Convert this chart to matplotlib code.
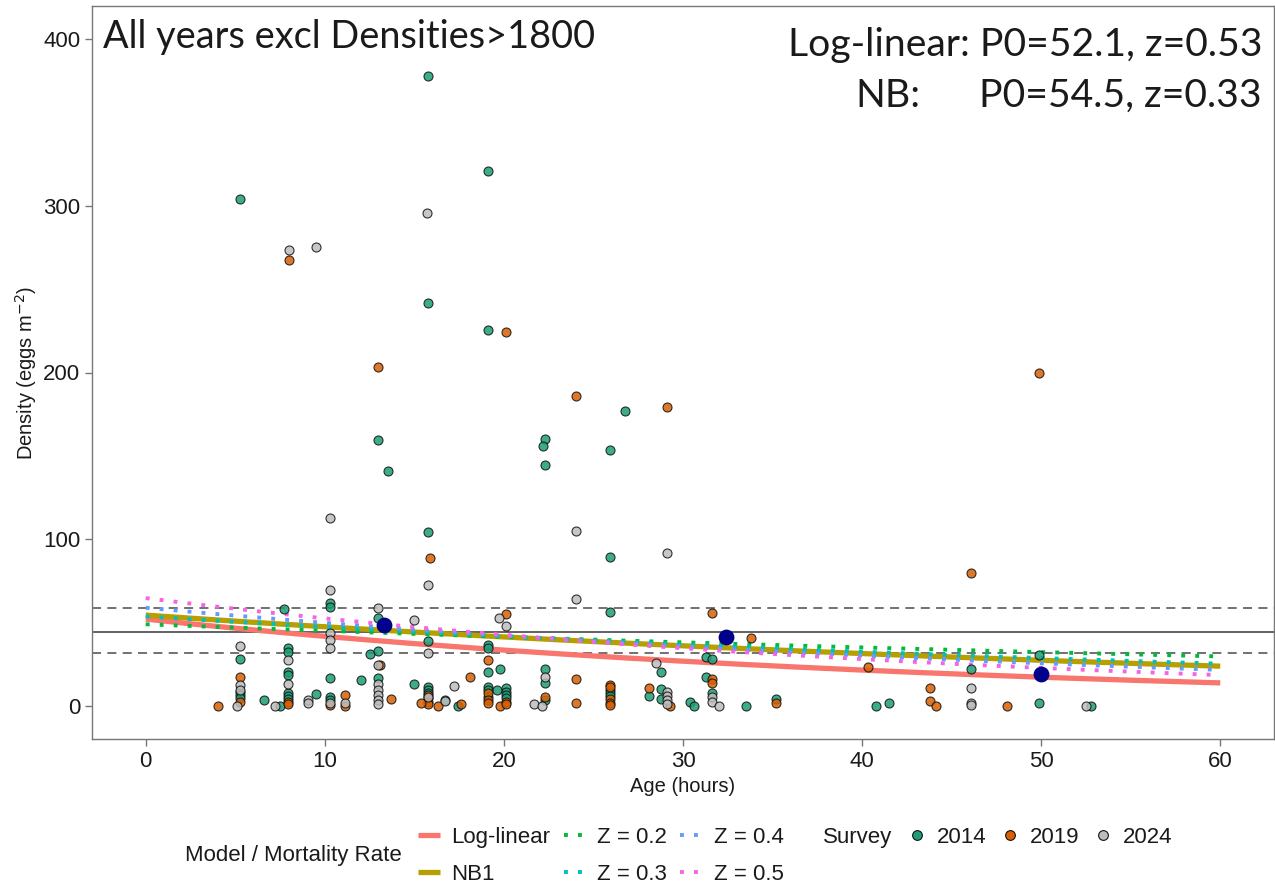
import numpy as np
import matplotlib.pyplot as plt
from matplotlib.lines import Line2D

# Survey observations (age in hours, density in eggs m^-2)
age_2014 = [5.24, 15.77, 19.1, 15.77, 19.1, 12.95, 22.3, 22.2, 25.95, 13.5, 22.3, 26.75,
            15.77, 25.95, 25.95, 10.3, 10.3, 7.7, 5.25, 5.25, 5.25, 5.25, 7.95, 7.95,
            7.95, 7.95, 7.95, 7.95, 7.95, 7.5, 6.6, 9.5, 10.3, 10.3, 10.3, 12.0, 12.5,
            12.95, 12.95, 12.95, 15.0, 15.75, 15.75, 15.75, 15.75, 16.7, 17.45, 19.1,
            19.1, 19.1, 19.1, 19.1, 19.1, 19.8, 19.6, 20.1, 20.1, 20.1, 20.1, 22.3,
            22.3, 22.3, 25.95, 25.95, 25.95, 28.75, 28.1, 28.75, 28.75, 30.4, 30.6,
            31.3, 31.6, 31.3, 31.6, 33.5, 35.2, 40.8, 41.5, 46.1, 49.9, 49.9, 52.8]
dens_2014 = [304, 377.7, 321, 241.5, 225.5, 159.3, 160, 156, 153.8, 141, 144.5, 177,
             104.3, 89.3, 56.3, 61.7, 59.5, 58, 28.2, 8.6, 6.6, 4.5, 34.6, 32.6,
             20.6, 18.6, 7.6, 5.8, 4, 0, 3.6, 7.4, 16.6, 5.2, 3.6, 15.6, 31,
             52.6, 33, 16.6, 13.2, 39, 11.6, 9.6, 8, 3.6, 0, 36.6,
             35, 20.6, 11.6, 9.6, 5.6, 22, 9.6, 10.6, 8.6, 6.6, 4.6, 22,
             14, 3.6, 9.6, 7.6, 6, 20.6, 6.2, 10, 4, 2.6, 0,
             29.6, 28.2, 17.2, 8, 0, 4, 0, 2, 22, 30.6, 1.6, 0]

age_2019 = [8.0, 20.1, 12.95, 49.9, 24.05, 29.1, 15.9, 46.1, 20.1, 31.6, 33.8, 40.35,
            4.05, 5.25, 5.25, 7.95, 7.95, 10.3, 11.1, 11.1, 13.1, 13.7, 15.75, 15.75,
            15.75, 15.75, 15.35, 16.3, 17.6, 18.1, 19.1, 19.1, 19.1, 19.1, 19.8, 20.1,
            20.1, 22.3, 24.05, 24.05, 25.95, 25.95, 25.95, 25.95, 25.95, 28.1, 29.3,
            31.6, 31.6, 35.2, 43.8, 43.8, 44.1, 48.1]
dens_2019 = [267.6, 224.3, 203.4, 199.6, 186, 179.5, 88.5, 80, 55.2, 55.6, 41, 23.2,
             0, 17.2, 2.2, 2.6, 1, 0.4, 6.6, 0, 24.6, 4, 6.6, 4.6,
             2.6, 1.2, 2, 0, 1.2, 17.6, 27.6, 7.6, 3.6, 1.6, 0, 2.6,
             1.2, 5.6, 16.2, 1.6, 12.6, 11.2, 4, 2, 0.4, 11, 0,
             16, 14, 1.6, 10.6, 3, 0, 0]

age_2024 = [15.7, 8.0, 9.5, 10.3, 24.05, 29.1, 15.75, 10.3, 24.05, 12.95, 19.7, 20.1,
            15.0, 5.25, 5.25, 5.25, 5.1, 7.95, 7.95, 7.2, 9.05, 9.05, 10.3, 10.3, 10.3,
            10.3, 11.1, 12.95, 12.95, 12.95, 12.95, 12.95, 12.95, 15.75, 15.75, 16.7,
            17.2, 21.7, 22.1, 22.3, 28.5, 29.1, 29.1, 29.1, 29.1, 31.6, 31.6, 32.0,
            46.1, 46.1, 46.1, 52.5]
dens_2024 = [295.6, 273.4, 275.5, 113, 104.7, 91.5, 72.5, 69.5, 64, 58.6, 52.6, 48.2,
             51.6, 36, 12.6, 9.4, 0, 27.6, 13.4, 0, 3.6, 2, 43.5, 39.6, 35,
             2, 2, 24.6, 13.2, 9.6, 6.6, 3.6, 1.2, 31.6, 5.5, 3,
             12, 1.2, 0, 17.2, 25.6, 8.6, 6, 3.6, 1.2, 5.6, 2.6, 0,
             11, 2, 0.6, 0]

# Survey means
mean_age = [13.3, 32.4, 50.0]
mean_dens = [48.5, 41.2, 19.2]

# overall mean and interval
overall_mean = 44.4
overall_lo = 31.8
overall_hi = 58.8

# model fits (z per day)
loglin_p0, loglin_z = 52.1, 0.53
nb_p0, nb_z = 54.5, 0.33
z_rates = [0.2, 0.3, 0.4, 0.5]
z_p0 = [49.0, 53.7, 58.9, 64.7]
z_labels = ['Z = 0.2', 'Z = 0.3', 'Z = 0.4', 'Z = 0.5']

survey_years = ['2014', '2019', '2024']
survey_colors = ['#1B9E77', '#D95F02', '#BDBDBD']
z_colors = ['#00BA38', '#00BFC4', '#619CFF', '#F564E3']

W, H = 1275, 886
fig = plt.figure(figsize=(W / 100, H / 100), dpi=100)
ax = fig.add_axes([92 / W, 1 - 739 / H, (1274 - 92) / W, (739 - 6) / H])

txt = '#1a1a1a'
sans = ['Liberation Sans', 'DejaVu Sans']

# reference lines
ax.axhline(overall_mean, color='#555555', lw=1.3, zorder=1)
for v in (overall_lo, overall_hi):
    ax.axhline(v, color='#666666', lw=1.3, ls=(0, (5, 3.5)), zorder=1)

t = np.linspace(0, 60, 200)
ax.plot(t, loglin_p0 * np.exp(-loglin_z * t / 24), color='#F8766D', lw=3.8,
        solid_capstyle='butt', zorder=2)
ax.plot(t, nb_p0 * np.exp(-nb_z * t / 24), color='#B79F00', lw=3.8,
        solid_capstyle='butt', zorder=2)
for z, p0, c in zip(z_rates, z_p0, z_colors):
    ax.plot(t, p0 * np.exp(-z * t / 24), color=c, lw=2.8, ls=(0, (1, 2.6)), zorder=3)

for xs, ys, c in zip([age_2014, age_2019, age_2024], [dens_2014, dens_2019, dens_2024],
                     survey_colors):
    ax.scatter(xs, ys, s=42, color=c, alpha=0.85, edgecolors='#111111',
               linewidths=0.8, zorder=4)

ax.scatter(mean_age, mean_dens, s=130, color='#00008B', zorder=5, linewidths=0)

ax.set_xlim(-3, 63)
ax.set_ylim(-19.8, 419.8)
ax.set_xticks([0, 10, 20, 30, 40, 50, 60])
ax.set_yticks([0, 100, 200, 300, 400])
for s in ax.spines.values():
    s.set_color('#777777')
    s.set_linewidth(1.0)
ax.tick_params(colors='#777777', labelcolor=txt, length=5, width=1, labelsize=16)
for lab in ax.get_xticklabels() + ax.get_yticklabels():
    lab.set_family(sans)
ax.set_xlabel('Age (hours)', fontsize=14.5, color=txt, family=sans, labelpad=4)
ax.set_ylabel('Density (eggs m$^{-2}$)', fontsize=14.5, color=txt, family=sans, labelpad=3)

# annotations
big = ['Lato', 'DejaVu Sans']
fig.text(103 / W, 1 - 48 / H, 'All years excl Densities>1800', fontsize=27.3,
         family=big, color=txt, va='baseline', ha='left')
fig.text(1262 / W, 1 - 56 / H, 'Log-linear: P0=52.1, z=0.53', fontsize=28.2,
         family=big, color=txt, va='baseline', ha='right')
fig.text(855 / W, 1 - 107 / H, 'NB:', fontsize=28.2,
         family=big, color=txt, va='baseline', ha='left')
fig.text(1262 / W, 1 - 107 / H, 'P0=54.5, z=0.33', fontsize=28.2,
         family=big, color=txt, va='baseline', ha='right')

# legends
model_handles = [Line2D([], [], color='#F8766D', lw=3.8, solid_capstyle='butt'),
                 Line2D([], [], color='#B79F00', lw=3.8, solid_capstyle='butt')]
model_labels = ['Log-linear', 'NB1']
for c, lab in zip(z_colors, z_labels):
    model_handles.append(Line2D([], [], color=c, lw=2.8, ls=(0, (1, 2.6))))
    model_labels.append(lab)

leg1 = fig.legend(model_handles, model_labels, loc='upper left',
                  bbox_to_anchor=(418 / W, 1 - 827 / H), ncol=3, frameon=False,
                  borderpad=0, borderaxespad=0, handlelength=1.0, handletextpad=0.5,
                  columnspacing=0.6, labelspacing=0.7,
                  prop={'family': sans, 'size': 16})
for tx in leg1.get_texts():
    tx.set_color(txt)
fig.text(185 / W, 1 - 856 / H, 'Model / Mortality Rate', fontsize=16, family=sans,
         color=txt, va='center', ha='left')

survey_handles = [Line2D([], [], ls='none', marker='o', markersize=7, color=c,
                         markeredgecolor='#111111', markeredgewidth=0.8)
                  for c in survey_colors]
leg2 = fig.legend(survey_handles, survey_years, loc='upper left',
                  bbox_to_anchor=(906 / W, 1 - 827 / H), ncol=3, frameon=False,
                  borderpad=0, borderaxespad=0, handlelength=1.0, handletextpad=0.4,
                  columnspacing=0.55, prop={'family': sans, 'size': 16})
for tx in leg2.get_texts():
    tx.set_color(txt)
fig.text(823 / W, 1 - 838 / H, 'Survey', fontsize=16, family=sans,
         color=txt, va='center', ha='left')

fig.savefig('out.png', dpi=100)
